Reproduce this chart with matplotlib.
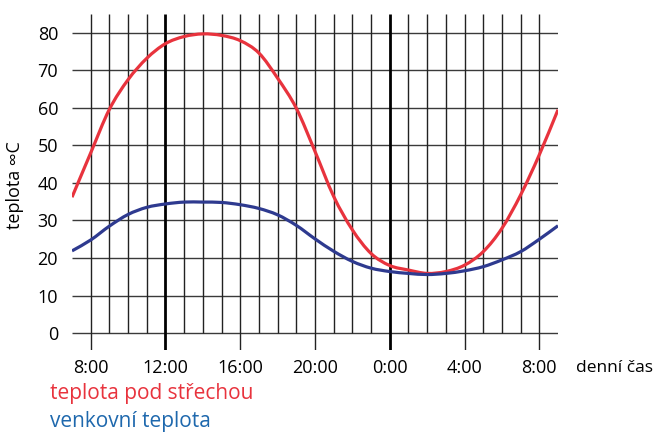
import matplotlib
matplotlib.use('Agg')
import matplotlib.pyplot as plt
from matplotlib.path import Path
from matplotlib.patches import PathPatch
import numpy as np

# hours from 7:00 to 9:00 next day (24 = midnight)
hours = [7, 8, 9, 10, 11, 12, 13, 14, 15, 16, 17, 18, 19, 20, 21, 22, 23,
         24, 25, 26, 27, 28, 29, 30, 31, 32, 33]
roof_temp = [36.2, 48.0, 59.6, 67.5, 73.2, 77.1, 79.0, 79.7, 79.3, 77.9, 74.6,
             67.9, 59.9, 48.4, 36.4, 27.5, 21.2, 18.0, 16.8, 15.9, 16.4, 18.1,
             21.7, 27.9, 36.8, 47.5, 59.5]
outside_temp = [21.9, 24.8, 28.5, 31.6, 33.5, 34.4, 34.9, 34.9, 34.8, 34.2, 33.2,
                31.5, 28.7, 25.1, 21.8, 19.1, 17.3, 16.4, 15.9, 15.6, 15.9, 16.6,
                17.7, 19.5, 21.7, 25.0, 28.6]
tick_hours = [8, 12, 16, 20, 24, 28, 32]
tick_labels = ['8:00', '12:00', '16:00', '20:00', '0:00', '4:00', '8:00']
y_ticks = [0, 10, 20, 30, 40, 50, 60, 70, 80]

red = '#e8333d'
navy = '#2e3a8f'
blue_txt = '#1e68ad'
font = 'Open Sans'


def smooth_path(x, y):
    # Catmull-Rom through the points, drawn as cubic Bezier segments
    p = np.column_stack([x, y]).astype(float)
    ext = np.vstack([2 * p[0] - p[1], p, 2 * p[-1] - p[-2]])
    verts = [p[0]]
    codes = [Path.MOVETO]
    for i in range(1, len(ext) - 2):
        p0, p1, p2, p3 = ext[i - 1], ext[i], ext[i + 1], ext[i + 2]
        verts += [p1 + (p2 - p0) / 6, p2 - (p3 - p1) / 6, p2]
        codes += [Path.CURVE4] * 3
    return Path(verts, codes)


fig = plt.figure(figsize=(6.57, 4.33), dpi=100)
ax = fig.add_axes([72 / 657, 1 - 350 / 433, (558 - 72) / 657, (350 - 14) / 433])
ax.set_xlim(7, 33)
ax.set_ylim(-4.5, 85)
for s in ax.spines.values():
    s.set_visible(False)

# grid
ax.hlines(y_ticks, 7, 33, color='#3a3a3a', lw=1.0, zorder=1)
for h in range(8, 33):
    if h in tick_hours:
        lw = 2.0 if h in (12, 24) else 1.0
        ax.vlines(h, -4.5, 85, color='black' if lw > 1 else '#222222', lw=lw, zorder=1)
    else:
        ax.vlines(h, 0, 85, color='#222222', lw=1.0, zorder=1)

for vals, col in [(roof_temp, red), (outside_temp, navy)]:
    ax.add_patch(PathPatch(smooth_path(hours, vals), fill=False, edgecolor=col,
                           lw=2.3, zorder=3, clip_on=True))

ax.set_xticks([])
ax.set_yticks(y_ticks)
ax.set_yticklabels([str(v) for v in y_ticks], fontsize=13, family=font)
ax.tick_params(axis='y', length=0, pad=10)

for h, lab in zip(tick_hours, tick_labels):
    ax.text(h, -9.3, lab, ha='center', va='center', fontsize=13, family=font)
fig.text(576 / 657, 1 - 368 / 433, 'denní čas', ha='left', va='center',
         fontsize=12.5, family=font)

fig.text(15 / 657, 1 - 185 / 433, 'teplota ∞C', rotation=90, ha='center',
         va='center', fontsize=13, family=['Open Sans', 'DejaVu Sans'])

fig.text(50 / 657, 1 - 393 / 433, 'teplota pod střechou', ha='left', va='center',
         fontsize=15, color=red, family=font)
fig.text(50 / 657, 1 - 422 / 433, 'venkovní teplota', ha='left', va='center',
         fontsize=15, color=blue_txt, family=font)

fig.savefig('out.png', dpi=100)
